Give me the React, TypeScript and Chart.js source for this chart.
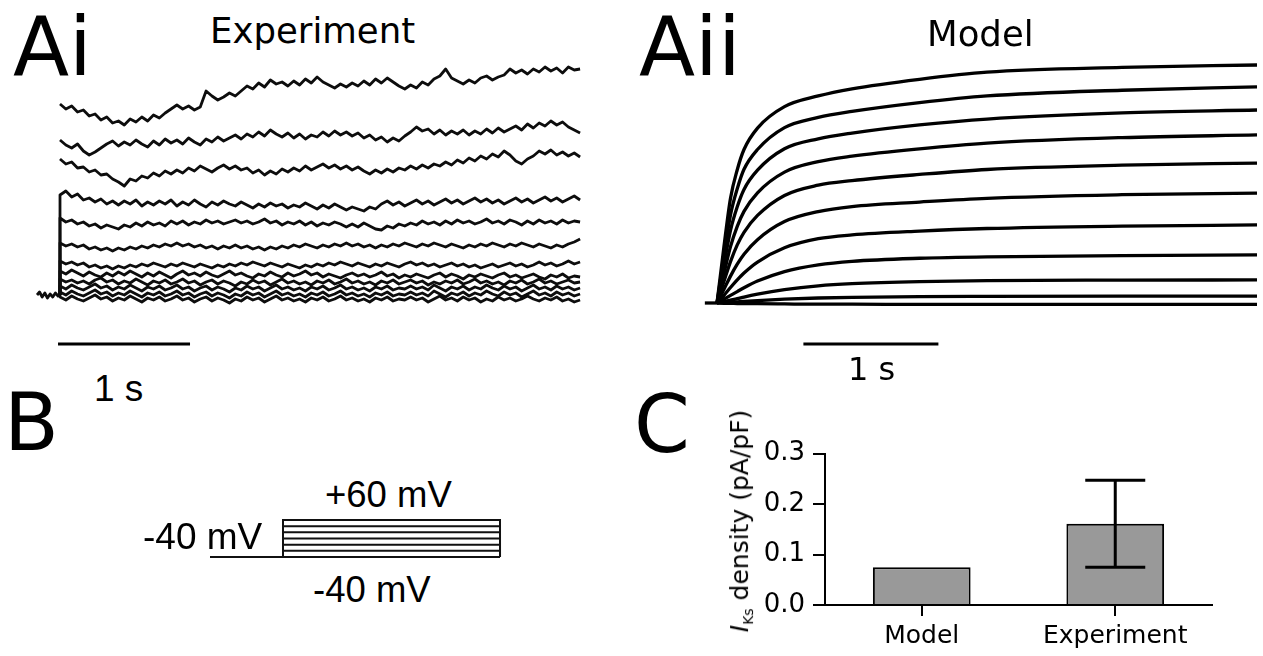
import React, { useEffect, useRef } from "react";
import { Chart, registerables } from "chart.js";

Chart.register(...registerables);

const DEJAVU = '"DejaVu Sans", sans-serif';
const ARIAL = '"Liberation Sans", Arial, sans-serif';

// ---------------- Panel Ai: experiment (time in s, current in pA) ----------------
const EXP_DT = 0.04427; // spacing of the listed samples, s (step onset at t = 0)
const EXP_HOLD_T = [-0.174, -0.155, -0.135, -0.115, -0.095, -0.075, -0.055, -0.035, -0.015, 0];
const EXP_HOLD_V = [0, 3, -2, 2, -3, 1, -2, 2, -1, 0];
const EXP_T1 = [191,186,189,183,185,179,181,175,178,172, 174,170,176,173,178,174,180,177,182,186, 190,186,189,185,188,204,199,195,198,202, 199,204,209,206,212,208,215,211,213,209, 214,210,216,212,218,213,210,207,211,208, 212,209,214,210,216,212,217,213,209,206, 210,207,213,210,216,219,226,217,214,211, 215,212,217,219,215,218,220,226,222,225, 221,226,223,228,224,227,222,228,225,226];
const EXP_T2 = [155,150,147,151,144,140,143,147,151,154, 149,153,150,155,151,148,154,150,156,152, 155,151,157,153,150,156,153,158,154,157, 160,156,161,158,163,159,165,161,158,162, 157,161,156,160,158,163,159,164,160,163, 159,162,157,160,155,158,153,157,154,159, 163,168,164,166,161,165,160,164,161,165, 160,164,161,166,162,167,163,166,169,165, 171,167,172,169,174,170,173,168,165,162];
const EXP_T3 = [136,131,133,127,128,123,125,120,121,116, 113,109,116,114,119,117,122,119,124,121, 125,122,127,124,129,126,123,127,130,126, 129,125,127,122,125,120,124,121,126,123, 127,124,129,125,128,131,127,130,126,129, 125,128,124,121,125,122,126,123,127,125, 129,126,130,127,131,129,133,130,135,132, 137,134,139,136,141,138,144,140,134,131, 136,139,144,141,145,140,143,139,142,138];
const EXP_T4 = [100,104,98,101,95,97,93,96,91,94, 90,94,91,95,89,93,90,94,91,95, 89,93,90,95,91,88,93,90,94,91, 89,93,90,87,91,88,92,89,91,87, 90,88,92,89,86,90,87,91,88,85, 88,86,84,88,86,91,94,90,93,89, 92,95,91,94,90,93,96,92,95,91, 94,97,93,96,92,95,91,94,97,93, 96,92,95,98,94,97,93,96,99,95];
const EXP_T5 = [77,73,75,71,73,69,71,67,70,68, 66,70,68,72,69,73,70,72,69,74, 71,74,70,73,71,75,72,74,71,73, 75,72,74,71,73,76,72,74,70,73, 71,74,70,73,69,72,70,73,71,68, 71,68,72,69,66,65,69,67,71,69, 72,70,74,71,73,70,74,71,75,72, 74,71,73,76,72,74,71,75,73,70, 74,71,75,72,74,71,75,72,74,73];
const EXP_T6 = [52,49,51,48,50,46,48,45,47,44, 47,45,48,46,49,47,50,48,51,49, 52,49,51,48,50,47,49,46,49,47, 50,47,49,46,48,45,48,46,49,47, 50,48,51,49,47,50,48,51,49,52, 49,51,48,50,47,50,48,51,49,52, 50,48,51,49,52,50,48,51,49,47, 50,48,51,49,52,50,48,51,49,52, 50,48,51,49,47,50,48,51,53,56];
const EXP_T7 = [34,31,33,30,32,28,30,27,29,26, 29,27,30,28,31,29,32,30,28,31, 29,32,30,28,31,29,27,30,28,31, 29,32,30,33,31,29,32,30,28,31, 29,27,30,28,31,29,32,30,33,31, 29,32,30,28,31,29,32,30,28,31, 33,30,32,29,31,28,30,32,29,31, 28,30,27,29,31,28,30,32,29,31, 28,30,33,30,32,29,31,34,31,33];
const EXP_T8 = [24,21,25,22,19,23,20,18,22,19, 23,20,24,21,18,22,19,23,20,17, 21,24,20,22,19,23,20,18,21,24, 20,22,19,17,21,19,23,20,18,22, 19,21,24,20,22,18,21,19,17,20, 22,19,21,18,20,23,19,21,17,20, 18,21,19,17,20,22,18,21,19,16, 20,18,21,19,17,20,22,18,20,17, 19,21,18,16,20,18,21,17,19,18];
const EXP_T9 = [16,13,15,12,14,11,15,17,13,15, 11,14,12,16,13,10,14,12,15,11, 13,16,12,14,10,13,15,11,14,12, 9,13,11,15,12,14,10,13,16,12, 14,11,13,10,14,12,15,11,13,16, 12,14,11,13,10,14,12,15,11,13, 15,12,14,10,13,11,14,12,15,11, 13,16,12,14,11,13,10,14,12,15, 11,13,16,12,14,11,13,15,12,13];
const EXP_T10 = [9,6,10,7,5,8,11,7,9,5, 8,6,10,7,4,8,6,9,5,7, 10,6,8,4,7,9,5,8,6,3, 7,5,9,6,8,4,7,10,6,8, 5,7,4,8,6,9,5,7,10,6, 8,5,7,4,8,6,9,5,7,6, 9,6,8,5,10,7,4,8,6,9, 5,8,6,10,7,5,9,6,8,4, 7,10,6,8,5,9,6,8,5,7];
const EXP_T11 = [3,0,4,1,-1,2,5,1,3,-1, 2,0,4,1,-2,2,0,3,-1,1, 4,0,2,-2,1,3,-1,2,0,-3, 1,-1,3,0,2,-2,1,4,0,2, -1,1,-2,2,0,3,-1,1,4,0, 2,-1,1,-2,2,0,3,-1,1,0, 3,0,2,-1,4,1,-2,2,0,3, -1,2,0,4,1,-1,3,0,2,-2, 1,4,0,2,-1,3,0,2,-1,1];
const EXP_T12 = [-2,-5,-1,-4,-6,-3,0,-4,-2,-6, -3,-5,-1,-4,-7,-3,-5,-2,-6,-4, -1,-5,-3,-7,-4,-2,-6,-3,-5,-8, -4,-6,-2,-5,-3,-7,-4,-1,-5,-3, -6,-4,-7,-3,-5,-2,-6,-4,-1,-5, -3,-6,-4,-7,-3,-5,-2,-6,-4,-5, -2,-5,-3,-7,-4,-1,-5,-3,-6,-2, -5,-3,-7,-4,-6,-2,-5,-3,-6,-4, -1,-4,-6,-3,-5,-2,-6,-4,-7,-5];
// traces drawn with the capacitive step rising from the holding level
const EXP_TRACES_FROM_HOLD = [EXP_T4, EXP_T5, EXP_T6, EXP_T7, EXP_T8, EXP_T9, EXP_T10, EXP_T11, EXP_T12];
const EXP_TRACES_FREE = [EXP_T1, EXP_T2, EXP_T3];
const EXP_SCALE_BAR_T = [-0.015, 0.985]; // 1 s
const EXP_SCALE_BAR_V = -49;

// ---------------- Panel Aii: model (time in s, normalised current) ----------------
const MODEL_T = [0, 0.05, 0.1, 0.15, 0.2, 0.3, 0.5, 0.75, 1.0, 1.5, 2.0, 3.0, 4.0];
const MODEL_C1 = [0, 0.23, 0.44, 0.56, 0.645, 0.735, 0.825, 0.87, 0.9, 0.94, 0.97, 0.99, 1.0];
const MODEL_C2 = [0, 0.19, 0.37, 0.48, 0.562, 0.645, 0.737, 0.78, 0.805, 0.842, 0.87, 0.894, 0.908];
const MODEL_C3 = [0, 0.155, 0.305, 0.404, 0.477, 0.558, 0.648, 0.69, 0.714, 0.748, 0.773, 0.799, 0.811];
const MODEL_C4 = [0, 0.12, 0.237, 0.322, 0.385, 0.463, 0.55, 0.594, 0.617, 0.648, 0.672, 0.695, 0.706];
const MODEL_C5 = [0, 0.088, 0.174, 0.244, 0.297, 0.368, 0.452, 0.495, 0.514, 0.54, 0.561, 0.579, 0.588];
const MODEL_C6 = [0, 0.056, 0.113, 0.163, 0.205, 0.266, 0.342, 0.384, 0.405, 0.424, 0.44, 0.455, 0.462];
const MODEL_C7 = [0, 0.031, 0.065, 0.097, 0.126, 0.172, 0.232, 0.27, 0.286, 0.302, 0.313, 0.323, 0.328];
const MODEL_C8 = [0, 0.015, 0.032, 0.048, 0.064, 0.092, 0.132, 0.16, 0.175, 0.188, 0.194, 0.199, 0.202];
const MODEL_C9 = [0, 0.006, 0.012, 0.018, 0.025, 0.037, 0.056, 0.072, 0.081, 0.09, 0.094, 0.096, 0.097];
const MODEL_C10 = [0, 0.002, 0.003, 0.005, 0.007, 0.01, 0.016, 0.021, 0.024, 0.027, 0.028, 0.029, 0.029];
const MODEL_C11 = [0, -0.001, -0.001, -0.002, -0.002, -0.003, -0.004, -0.005, -0.005, -0.006, -0.006, -0.006, -0.006];
const MODEL_CURVES = [MODEL_C1, MODEL_C2, MODEL_C3, MODEL_C4, MODEL_C5, MODEL_C6, MODEL_C7, MODEL_C8, MODEL_C9, MODEL_C10, MODEL_C11];
const MODEL_HOLD_T = [-0.09, 0];
const MODEL_SCALE_BAR_T = [0.64, 1.64]; // 1 s
const MODEL_SCALE_BAR_V = -0.172;

// ---------------- Panel B: voltage protocol (time in s, mV) ----------------
const PROTOCOL_HOLD_MV = -40;
const PROTOCOL_STEPS_MV = [-40, -23, -7, 10, 27, 43, 60];
const PROTOCOL_T = [-0.553, 0, 1.644]; // trace start, step on, step off

// ---------------- Panel C: IKs density ----------------
const BAR_LABELS = ["Model", "Experiment"];
const BAR_VALUES = [0.075, 0.161];
const BAR_ERRORS = [0, 0.086];
const C_Y_MIN = 0;
const C_Y_MAX = 0.3;
const C_Y_STEP = 0.1;

type Box = { left: number; top: number; width: number; height: number };

function ChartCanvas({ box, build }: { box: Box; build: () => any }) {
  const ref = useRef<HTMLCanvasElement>(null);
  useEffect(() => {
    const chart = new Chart(ref.current as HTMLCanvasElement, build());
    return () => chart.destroy();
  }, []);
  return (
    <canvas
      ref={ref}
      width={box.width}
      height={box.height}
      style={{ position: "absolute", left: box.left, top: box.top, width: box.width, height: box.height }}
    />
  );
}

function lineDs(data: { x: number; y: number }[], width: number, extra: any = {}) {
  return {
    data,
    borderColor: "#000",
    borderWidth: width,
    pointRadius: 0,
    fill: false,
    tension: 0,
    borderJoinStyle: "round",
    borderCapStyle: "butt",
    ...extra,
  };
}

function lineConfig(datasets: any[], xMin: number, xMax: number, yMin: number, yMax: number) {
  return {
    type: "line",
    data: { datasets },
    options: {
      animation: false,
      responsive: false,
      devicePixelRatio: 1,
      events: [],
      layout: { padding: 0 },
      plugins: { legend: { display: false }, tooltip: { enabled: false }, title: { display: false } },
      scales: {
        x: { type: "linear", display: false, min: xMin, max: xMax },
        y: { type: "linear", display: false, min: yMin, max: yMax },
      },
    },
  };
}

// Canvas boxes (page pixels) and the data ranges they show
const AI_BOX: Box = { left: 27, top: 55, width: 561, height: 295 };
const AII_BOX: Box = { left: 696, top: 50, width: 564, height: 302 };
const B_BOX: Box = { left: 204, top: 515, width: 305, height: 47 };
const C_BOX: Box = { left: 700, top: 430, width: 530, height: 226 };

const TRACE_COLOR = "#0d0d0d";
const TRACE_WIDTH = 2.8;

function buildAi() {
  const datasets: any[] = [];
  datasets.push(lineDs(EXP_HOLD_T.map((t, i) => ({ x: t, y: EXP_HOLD_V[i] })), TRACE_WIDTH, { borderColor: TRACE_COLOR }));
  EXP_TRACES_FROM_HOLD.forEach((tr) => {
    const pts = [{ x: 0, y: 0 }, ...tr.map((v, i) => ({ x: i * EXP_DT, y: v }))];
    datasets.push(lineDs(pts, TRACE_WIDTH, { borderColor: TRACE_COLOR }));
  });
  EXP_TRACES_FREE.forEach((tr) => {
    const pts = tr.map((v, i) => ({ x: i * EXP_DT, y: v }));
    datasets.push(lineDs(pts, TRACE_WIDTH, { borderColor: TRACE_COLOR }));
  });
  datasets.push(lineDs(EXP_SCALE_BAR_T.map((t) => ({ x: t, y: EXP_SCALE_BAR_V })), 3));
  return lineConfig(datasets, -0.25, 4.0, -55, 240);
}

function buildAii() {
  const datasets: any[] = [];
  datasets.push(lineDs(MODEL_HOLD_T.map((t) => ({ x: t, y: 0 })), 3.3));
  MODEL_CURVES.forEach((c) => {
    datasets.push(
      lineDs(MODEL_T.map((t, i) => ({ x: t, y: c[i] })), 3.3, { cubicInterpolationMode: "monotone" })
    );
  });
  datasets.push(lineDs(MODEL_SCALE_BAR_T.map((t) => ({ x: t, y: MODEL_SCALE_BAR_V })), 3));
  return lineConfig(datasets, -21 / 135, 543 / 135, -49 / 238, 253 / 238);
}

function buildB() {
  const [t0, ton, toff] = PROTOCOL_T;
  const datasets = PROTOCOL_STEPS_MV.map((v) =>
    lineDs(
      [
        { x: t0, y: PROTOCOL_HOLD_MV },
        { x: ton, y: PROTOCOL_HOLD_MV },
        { x: ton, y: v },
        { x: toff, y: v },
        { x: toff, y: PROTOCOL_HOLD_MV },
      ],
      2,
      { borderColor: "#111", borderJoinStyle: "miter" }
    )
  );
  return lineConfig(datasets, -79 / 132, 226 / 132, -40 - 5 / 0.37, -40 + 42 / 0.37);
}

const errorBarPlugin = {
  id: "errorBars",
  afterDatasetsDraw(chart: any) {
    const { ctx } = chart;
    const x = chart.scales.x;
    const y = chart.scales.y;
    ctx.save();
    ctx.strokeStyle = "#000";
    ctx.lineWidth = 3;
    BAR_VALUES.forEach((v, i) => {
      const e = BAR_ERRORS[i];
      if (!e) return;
      const px = x.getPixelForValue(i);
      const top = y.getPixelForValue(v + e);
      const bot = y.getPixelForValue(v - e);
      const half = 30;
      ctx.beginPath();
      ctx.moveTo(px, top);
      ctx.lineTo(px, bot);
      ctx.moveTo(px - half, top);
      ctx.lineTo(px + half, top);
      ctx.moveTo(px - half, bot);
      ctx.lineTo(px + half, bot);
      ctx.stroke();
    });
    ctx.restore();
  },
};

function buildC() {
  return {
    type: "bar",
    data: {
      labels: BAR_LABELS,
      datasets: [
        {
          data: BAR_VALUES,
          backgroundColor: "#999999",
          borderColor: "#000",
          borderWidth: 2,
          borderSkipped: "start",
          barPercentage: 0.505,
          categoryPercentage: 1,
        },
      ],
    },
    plugins: [errorBarPlugin],
    options: {
      animation: false,
      responsive: false,
      devicePixelRatio: 1,
      events: [],
      layout: { padding: { top: 17, right: 18, left: 0, bottom: 0 } },
      plugins: { legend: { display: false }, tooltip: { enabled: false } },
      scales: {
        x: {
          type: "category",
          afterFit: (s: any) => {
            s.height = 51;
          },
          grid: { display: true, drawOnChartArea: false, drawTicks: true, tickLength: 11, color: "#000", lineWidth: 2, offset: false },
          border: { display: true, color: "#000", width: 2 },
          ticks: { color: "#000", font: { family: DEJAVU, size: 25 }, padding: 5 },
        },
        y: {
          type: "linear",
          min: C_Y_MIN,
          max: C_Y_MAX,
          afterFit: (s: any) => {
            s.width = 125;
          },
          grid: { display: true, drawOnChartArea: false, drawTicks: true, tickLength: 12, color: "#000", lineWidth: 2 },
          border: { display: true, color: "#000", width: 2 },
          ticks: {
            stepSize: C_Y_STEP,
            color: "#000",
            font: { family: DEJAVU, size: 26 },
            padding: 8,
            callback: (v: any) => Number(v).toFixed(1),
          },
        },
      },
    },
  };
}

function Text({ x, y, size, family, children }: { x: number; y: number; size: number; family: string; children: any }) {
  return (
    <div
      style={{
        position: "absolute",
        left: x,
        top: y,
        fontSize: size,
        fontFamily: family,
        lineHeight: 1,
        whiteSpace: "nowrap",
        color: "#000",
      }}
    >
      {children}
    </div>
  );
}

export default function App() {
  return (
    <div
      style={{
        position: "absolute",
        left: 0,
        top: 0,
        width: 1263,
        height: 656,
        background: "#fff",
        overflow: "hidden",
      }}
    >
      <ChartCanvas box={AI_BOX} build={buildAi} />
      <ChartCanvas box={AII_BOX} build={buildAii} />
      <ChartCanvas box={B_BOX} build={buildB} />
      <ChartCanvas box={C_BOX} build={buildC} />

      <Text x={13} y={6} size={82} family={DEJAVU}>Ai</Text>
      <Text x={639} y={6} size={82} family={DEJAVU}>Aii</Text>
      <Text x={4} y={383} size={80} family={DEJAVU}>B</Text>
      <Text x={634} y={385} size={80} family={DEJAVU}>C</Text>

      <Text x={210} y={13} size={35.5} family={DEJAVU}>Experiment</Text>
      <Text x={927} y={16} size={35.5} family={DEJAVU}>Model</Text>

      <Text x={94} y={370} size={37} family={ARIAL}>1 s</Text>
      <Text x={848} y={353} size={32} family={DEJAVU}>1 s</Text>

      <Text x={325} y={477} size={36.5} family={ARIAL}>+60 mV</Text>
      <Text x={143} y={518} size={37} family={ARIAL}>-40 mV</Text>
      <Text x={313} y={572} size={36.5} family={ARIAL}>-40 mV</Text>

      <div
        style={{
          position: "absolute",
          left: 741,
          top: 521,
          transform: "translate(-50%, -50%) rotate(-90deg)",
          fontFamily: DEJAVU,
          fontSize: 25,
          lineHeight: 1,
          whiteSpace: "nowrap",
          color: "#000",
        }}
      >
        <i>I</i>
        <sub style={{ fontSize: 14, verticalAlign: "-0.35em" }}>Ks</sub> density (pA/pF)
      </div>
    </div>
  );
}
